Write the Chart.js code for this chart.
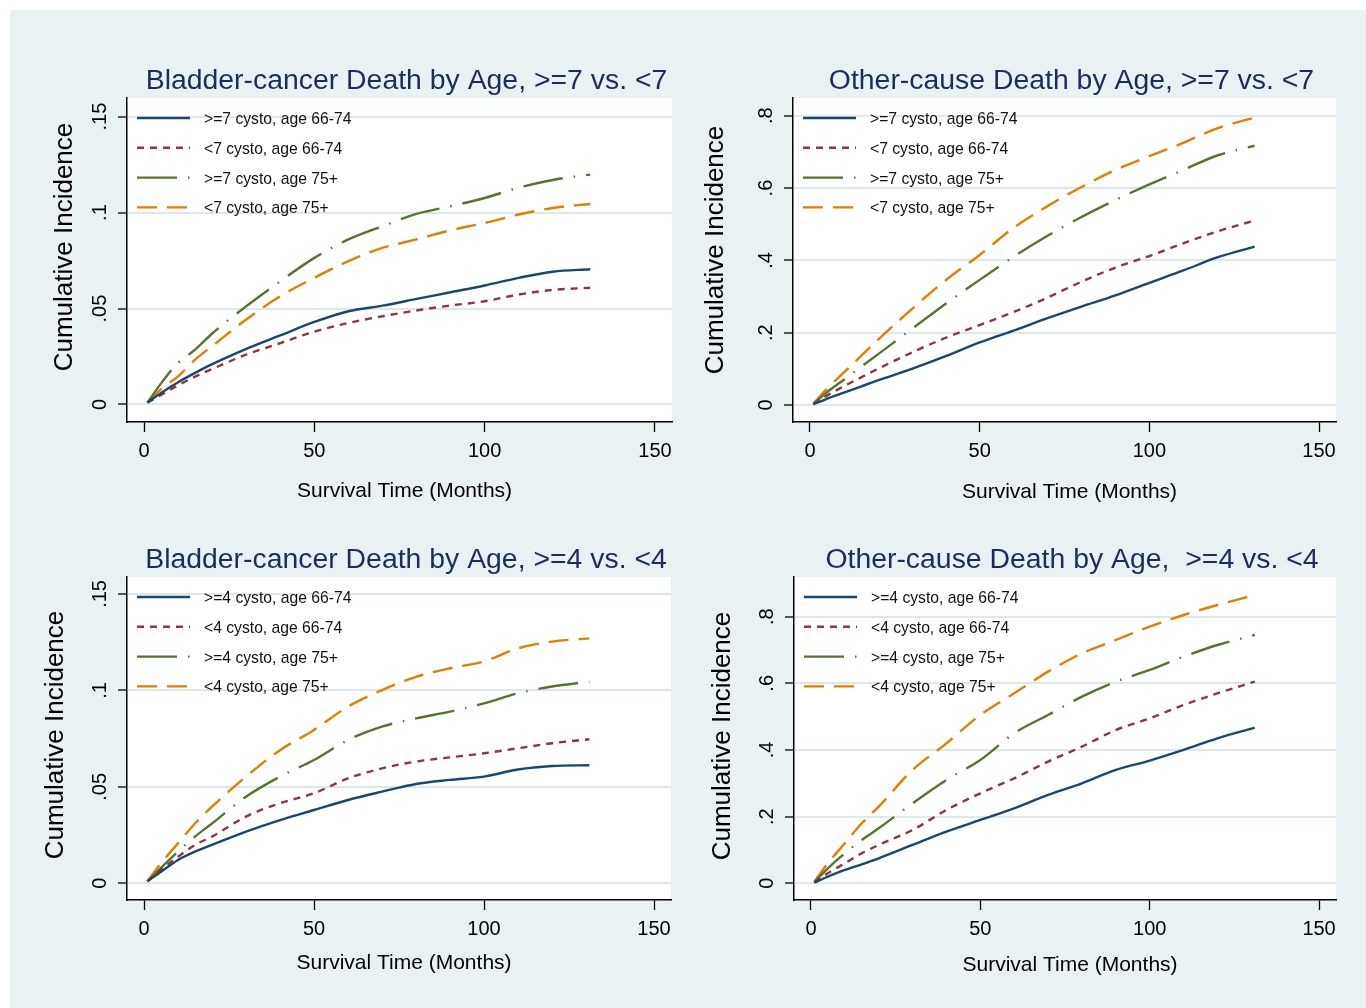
<!DOCTYPE html>
<html>
<head>
<meta charset="utf-8">
<script src="https://cdn.jsdelivr.net/npm/chart.js@4.4.1/dist/chart.umd.min.js"></script>
<style>
  html, body { margin: 0; padding: 0; background: #fff; }
  #bg { position: absolute; left: 10px; top: 10px; width: 1356px; height: 998px; background: #e9f1f2; }
  canvas { position: absolute; }
</style>
</head>
<body>
<div id="bg"></div>
<canvas id="c1" width="673" height="499" style="left:10px;top:10px"></canvas>
<canvas id="c2" width="683" height="499" style="left:683px;top:10px"></canvas>
<canvas id="c3" width="673" height="499" style="left:10px;top:509px"></canvas>
<canvas id="c4" width="683" height="499" style="left:683px;top:509px"></canvas>
<script>
// survival time (months) where the curves are read
const months = [1, 5, 10, 15, 20, 30, 40, 50, 60, 70, 80, 90, 100, 110, 120, 131];
const xTicks = [0, 50, 100, 150];

// bladder-cancer death, >=7 vs <7
const bc7_ge_6674 = [0.001, 0.006, 0.0116, 0.0165, 0.021, 0.029, 0.036, 0.043, 0.0486, 0.0515, 0.055, 0.0585, 0.062, 0.066, 0.0692, 0.0705];
const bc7_lt_6674 = [0.001, 0.005, 0.010, 0.0145, 0.0185, 0.026, 0.032, 0.038, 0.0425, 0.046, 0.049, 0.0516, 0.0538, 0.0573, 0.0597, 0.0608];
const bc7_ge_75 = [0.001, 0.011, 0.0217, 0.0286, 0.037, 0.0512, 0.0642, 0.0764, 0.086, 0.0929, 0.0993, 0.1033, 0.1076, 0.113, 0.117, 0.1198];
const bc7_lt_75 = [0.001, 0.008, 0.0147, 0.0234, 0.0304, 0.0443, 0.0564, 0.066, 0.0747, 0.0816, 0.086, 0.0908, 0.0946, 0.099, 0.1024, 0.1045];

// other-cause death, >=7 vs <7
const oc7_ge_6674 = [0.002, 0.017, 0.034, 0.051, 0.068, 0.1, 0.135, 0.173, 0.206, 0.24, 0.272, 0.303, 0.338, 0.372, 0.408, 0.438];
const oc7_lt_6674 = [0.003, 0.026, 0.052, 0.076, 0.1, 0.145, 0.186, 0.221, 0.257, 0.297, 0.341, 0.38, 0.412, 0.447, 0.48, 0.51];
const oc7_ge_75 = [0.003, 0.035, 0.07, 0.105, 0.14, 0.21, 0.28, 0.346, 0.41, 0.468, 0.52, 0.567, 0.61, 0.65, 0.69, 0.717];
const oc7_lt_75 = [0.004, 0.045, 0.09, 0.135, 0.18, 0.265, 0.345, 0.415, 0.49, 0.55, 0.603, 0.65, 0.688, 0.725, 0.765, 0.795];

// bladder-cancer death, >=4 vs <4
const bc4_ge_6674 = [0.001, 0.006, 0.0121, 0.0164, 0.0199, 0.0268, 0.0328, 0.038, 0.0432, 0.0475, 0.0515, 0.0536, 0.0553, 0.059, 0.0608, 0.0612];
const bc4_lt_6674 = [0.001, 0.007, 0.0138, 0.0199, 0.0242, 0.0346, 0.0415, 0.0467, 0.0544, 0.0596, 0.0631, 0.0653, 0.0674, 0.070, 0.0726, 0.0747];
const bc4_ge_75 = [0.001, 0.008, 0.0164, 0.0242, 0.031, 0.0449, 0.0553, 0.0639, 0.0743, 0.0812, 0.0855, 0.089, 0.0933, 0.0985, 0.102, 0.1045];
const bc4_lt_75 = [0.001, 0.0104, 0.0207, 0.031, 0.0397, 0.0553, 0.069, 0.0795, 0.0916, 0.1002, 0.107, 0.1115, 0.115, 0.1218, 0.1253, 0.127];

// other-cause death, >=4 vs <4
const oc4_ge_6674 = [0.002, 0.02, 0.04, 0.057, 0.075, 0.115, 0.155, 0.19, 0.225, 0.265, 0.30, 0.34, 0.368, 0.40, 0.435, 0.467];
const oc4_lt_6674 = [0.003, 0.03, 0.06, 0.09, 0.115, 0.16, 0.22, 0.27, 0.315, 0.365, 0.41, 0.46, 0.495, 0.535, 0.57, 0.605];
const oc4_ge_75 = [0.003, 0.045, 0.09, 0.13, 0.165, 0.24, 0.31, 0.37, 0.45, 0.505, 0.56, 0.605, 0.64, 0.68, 0.715, 0.745];
const oc4_lt_75 = [0.005, 0.06, 0.12, 0.18, 0.23, 0.34, 0.42, 0.505, 0.57, 0.635, 0.69, 0.73, 0.77, 0.805, 0.835, 0.865];

const labels7 = [">=7 cysto, age 66-74", "<7 cysto, age 66-74", ">=7 cysto, age 75+", "<7 cysto, age 75+"];
const labels4 = [">=4 cysto, age 66-74", "<4 cysto, age 66-74", ">=4 cysto, age 75+", "<4 cysto, age 75+"];

const bcTicks = [0, 0.05, 0.1, 0.15];
const bcTickLabels = ["0", ".05", ".1", ".15"];
const ocTicks = [0, 0.2, 0.4, 0.6, 0.8];
const ocTickLabels = ["0", ".2", ".4", ".6", ".8"];

const FONT = '"Liberation Sans", Arial, sans-serif';
const colors = ["#1a476f", "#90353b", "#55752f", "#e37e00"];
const dashes = [[], [7, 6], [40, 11, 1.5, 11], [20, 10]];

// draws plot background, titles, rotated y labels and the legend inside the plot
const panelPlugin = {
    id: "panel",
    beforeDraw(chart, args, opts) {
        const { ctx, chartArea: a } = chart;
        ctx.save();
        ctx.fillStyle = "#fff";
        ctx.fillRect(a.left, a.top, a.right - a.left, a.bottom - a.top);
        ctx.restore();
    },
    afterDraw(chart, args, opts) {
        const { ctx, chartArea: a } = chart;
        const yScale = chart.scales.y;
        const mid = (a.left + a.right) / 2;
        ctx.save();

        // title
        ctx.fillStyle = "#1b2d5c";
        ctx.font = "28.4px " + FONT;
        ctx.textAlign = "center";
        ctx.textBaseline = "alphabetic";
        ctx.fillText(opts.title, mid + 7, a.top - 9);

        // x axis title
        ctx.fillStyle = "#000";
        ctx.font = "21px " + FONT;
        ctx.fillText("Survival Time (Months)", mid + 5, a.bottom + opts.xTitleDy);

        // y tick labels, rotated like Stata
        ctx.font = "20px " + FONT;
        yScale.ticks.forEach((t, i) => {
            const py = yScale.getPixelForValue(t.value);
            ctx.save();
            ctx.translate(a.left - 21, py);
            ctx.rotate(-Math.PI / 2);
            ctx.fillText(opts.yLabels[i], 0, 0);
            ctx.restore();
        });

        // y axis title
        ctx.font = "26px " + FONT;
        ctx.save();
        ctx.translate(a.left + opts.yTitleDx, a.top + opts.yTitleDy);
        ctx.rotate(-Math.PI / 2);
        ctx.fillText("Cumulative Incidence", 0, 0);
        ctx.restore();

        // legend
        ctx.textAlign = "left";
        ctx.font = "15.7px " + FONT;
        chart.data.datasets.forEach((ds, i) => {
            const ly = a.top + 20 + i * 29.8;
            ctx.strokeStyle = ds.borderColor;
            ctx.lineWidth = 2.4;
            ctx.setLineDash(ds.borderDash);
            ctx.beginPath();
            ctx.moveTo(a.left + 10, ly);
            ctx.lineTo(a.left + 63, ly);
            ctx.stroke();
            ctx.setLineDash([]);
            ctx.fillStyle = "#111";
            ctx.fillText(ds.label, a.left + 77, ly + 6);
        });
        ctx.restore();
    }
};

function makePanel(id, cfg) {
    const canvas = document.getElementById(id);
    const W = canvas.width, H = canvas.height;
    const xAxisHeight = H - cfg.area[3];
    const datasets = cfg.series.map((s, i) => ({
        label: cfg.labels[i],
        data: months.map((m, j) => ({ x: m, y: s[j] })),
        borderColor: colors[i],
        borderDash: dashes[i],
        borderWidth: 2.4,
        pointRadius: 0,
        fill: false,
        cubicInterpolationMode: "monotone"
    }));

    new Chart(canvas, {
        type: "line",
        data: { datasets },
        options: {
            responsive: false,
            animation: false,
            events: [],
            layout: {
                padding: { left: cfg.area[0], top: cfg.area[1], right: W - cfg.area[2], bottom: 0 }
            },
            plugins: {
                legend: { display: false },
                tooltip: { enabled: false },
                title: { display: false },
                panel: {
                    title: cfg.title,
                    yLabels: cfg.yLabels,
                    yTitleDx: cfg.yTitle[0],
                    yTitleDy: cfg.yTitle[1],
                    xTitleDy: cfg.xTitleDy
                }
            },
            scales: {
                x: {
                    type: "linear",
                    min: -5,
                    max: 155,
                    afterBuildTicks: s => { s.ticks = xTicks.map(v => ({ value: v })); },
                    afterFit: s => { s.height = xAxisHeight; },
                    grid: { drawOnChartArea: false, drawTicks: true, tickLength: 10, tickColor: "#000", tickWidth: 1.3 },
                    border: { color: "#000", width: 1.5 },
                    ticks: { padding: 7, color: "#000", font: { family: FONT, size: 20 }, maxRotation: 0, autoSkip: false }
                },
                y: {
                    type: "linear",
                    min: cfg.yRange[0],
                    max: cfg.yRange[1],
                    afterBuildTicks: s => { s.ticks = cfg.yTicks.map(v => ({ value: v })); },
                    afterFit: s => { s.width = 0; },
                    grid: { color: "#dde8eb", lineWidth: 2, drawTicks: true, tickLength: 9, tickColor: "#000", tickWidth: 1.3 },
                    border: { color: "#000", width: 1.5 },
                    ticks: { display: false }
                }
            }
        },
        plugins: [panelPlugin]
    });
}

// plot areas in canvas coordinates: [left, top, right, bottom]
makePanel("c1", {
    title: "Bladder-cancer Death by Age, >=7 vs. <7",
    series: [bc7_ge_6674, bc7_lt_6674, bc7_ge_75, bc7_lt_75],
    labels: labels7,
    yTicks: bcTicks, yLabels: bcTickLabels,
    yRange: [-0.00912, 0.1597],
    area: [117, 88, 662, 412],
    yTitle: [-55, 149], xTitleDy: 75
});
makePanel("c2", {
    title: "Other-cause Death by Age, >=7 vs. <7",
    series: [oc7_ge_6674, oc7_lt_6674, oc7_ge_75, oc7_lt_75],
    labels: labels7,
    yTicks: ocTicks, yLabels: ocTickLabels,
    yRange: [-0.047, 0.849],
    area: [110, 88, 653, 412],
    yTitle: [-70, 152], xTitleDy: 76
});
makePanel("c3", {
    title: "Bladder-cancer Death by Age, >=4 vs. <4",
    series: [bc4_ge_6674, bc4_lt_6674, bc4_ge_75, bc4_lt_75],
    labels: labels4,
    yTicks: bcTicks, yLabels: bcTickLabels,
    yRange: [-0.00866, 0.1588],
    area: [117, 68, 661, 391],
    yTitle: [-64, 158], xTitleDy: 68.5
});
makePanel("c4", {
    title: "Other-cause Death by Age,  >=4 vs. <4",
    series: [oc4_ge_6674, oc4_lt_6674, oc4_ge_75, oc4_lt_75],
    labels: labels4,
    yTicks: ocTicks, yLabels: ocTickLabels,
    yRange: [-0.0501, 0.919],
    area: [111, 68, 653, 391],
    yTitle: [-64, 159], xTitleDy: 70.5
});
</script>
</body>
</html>
